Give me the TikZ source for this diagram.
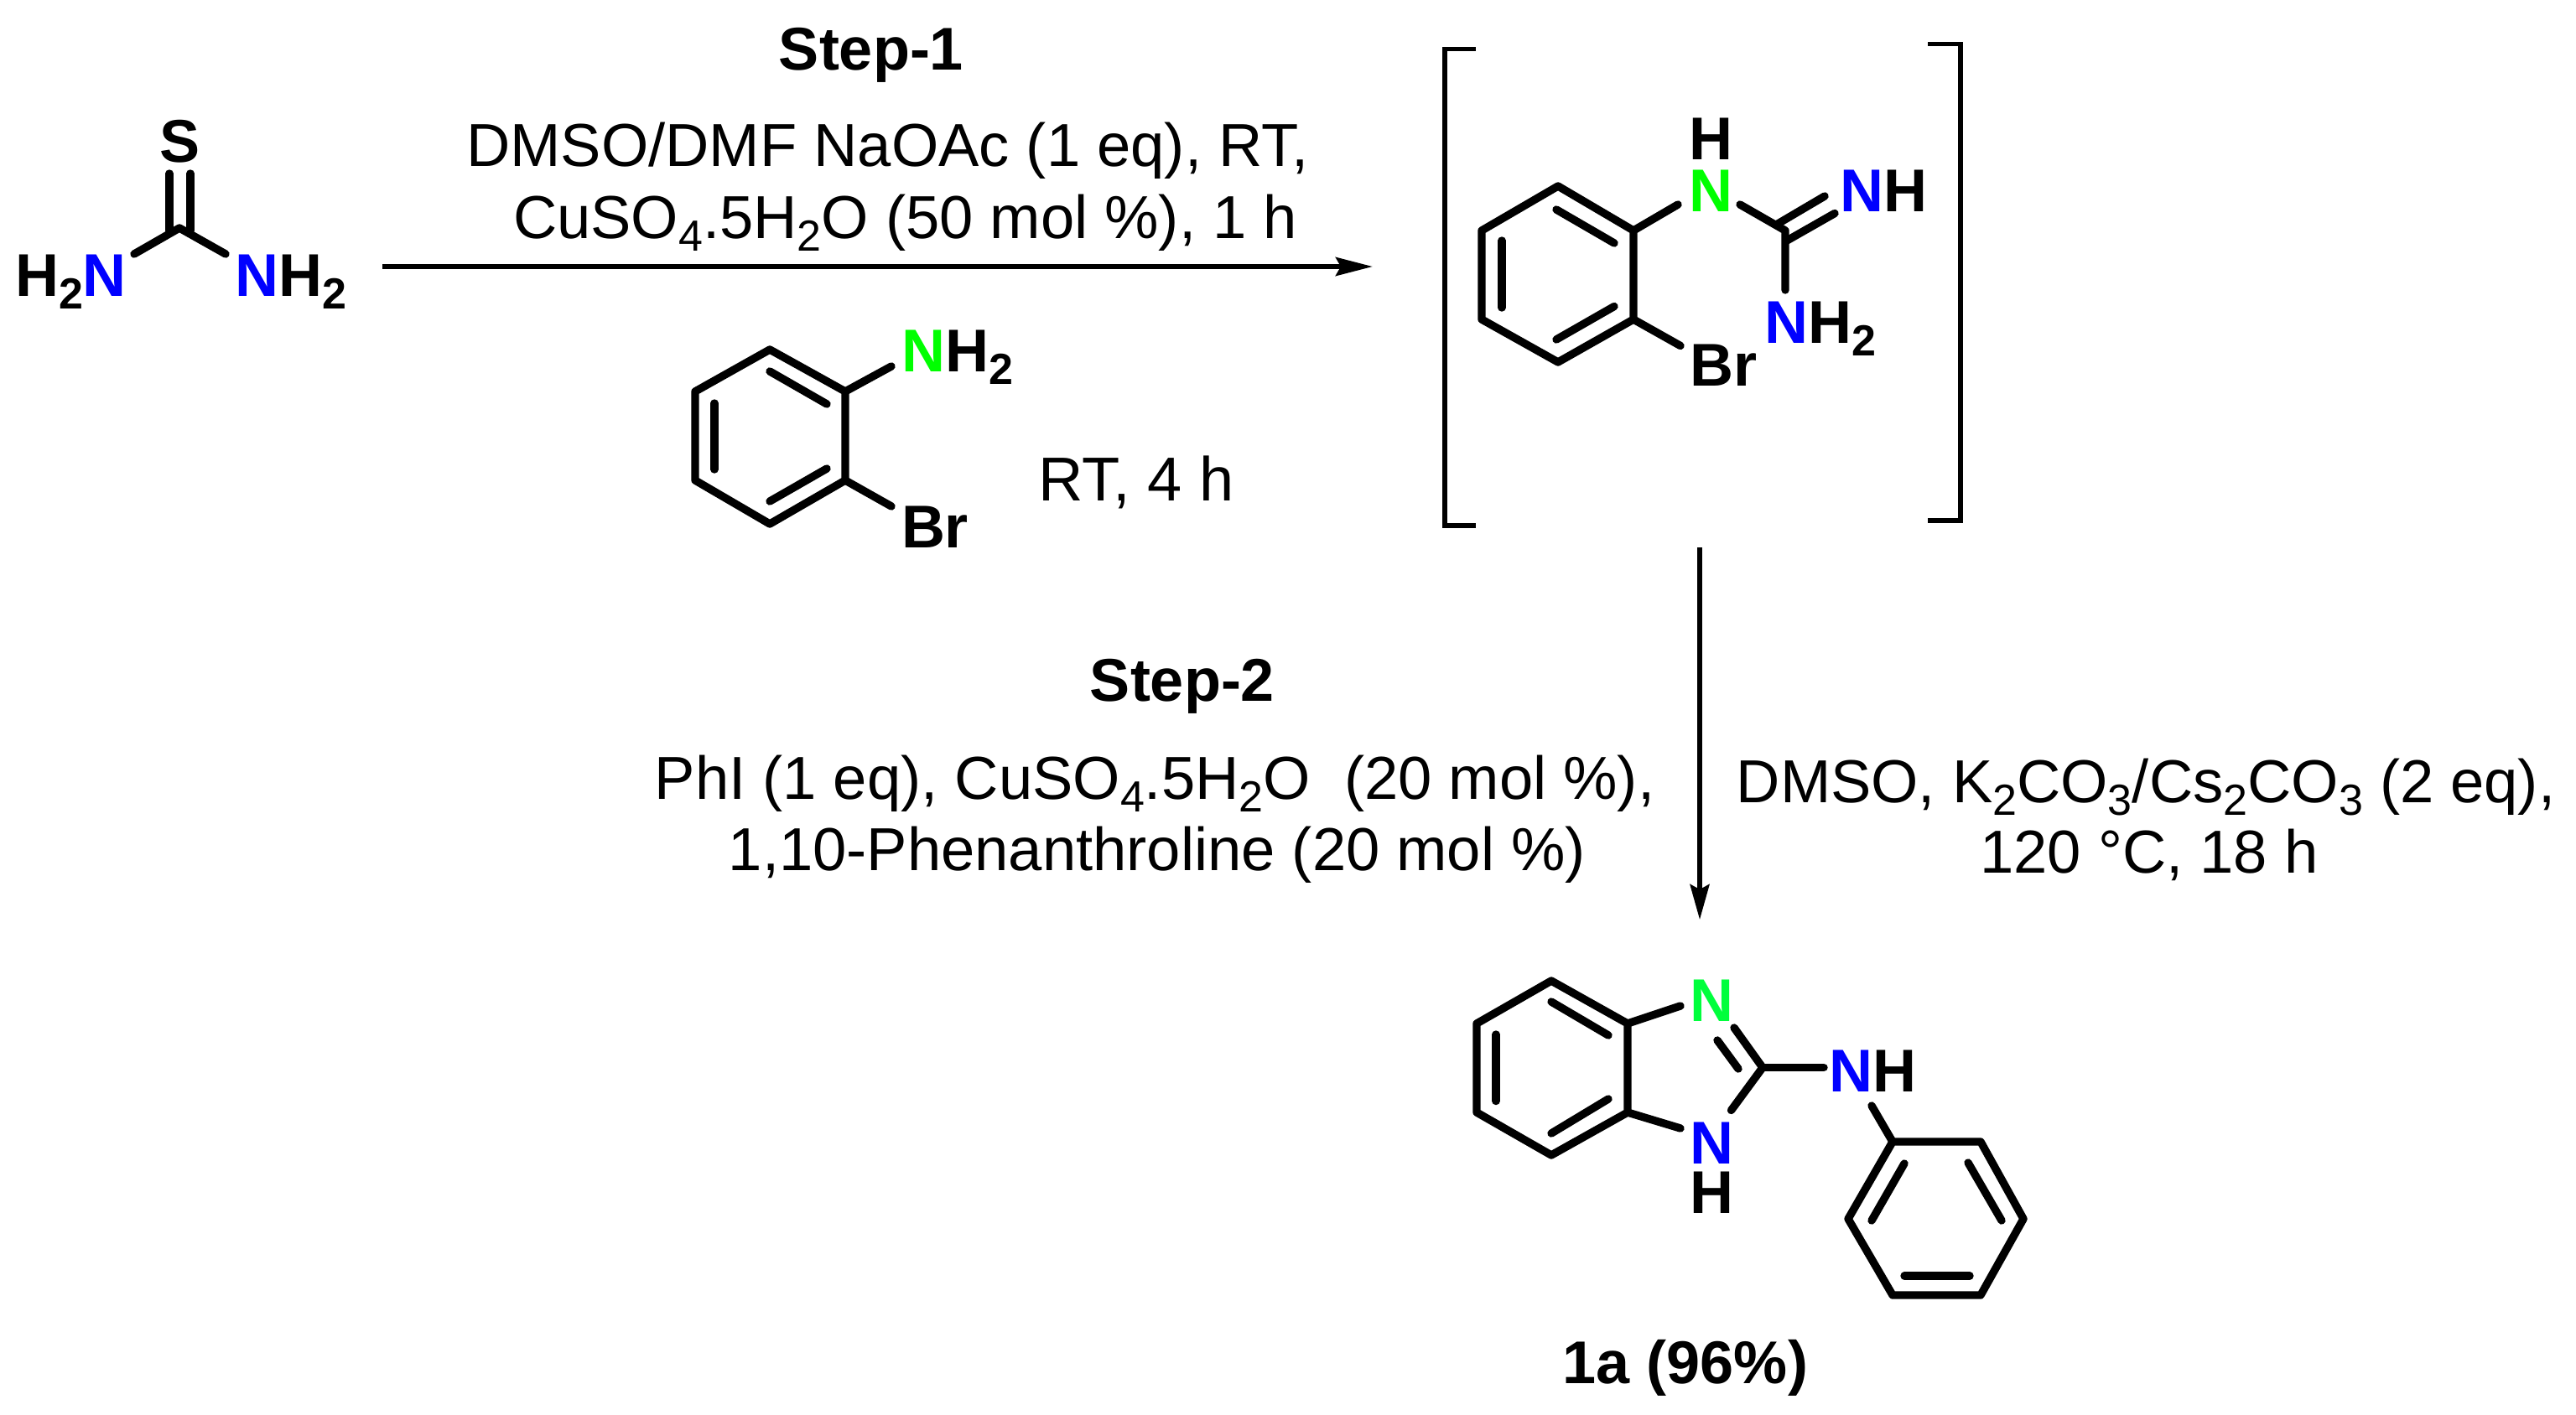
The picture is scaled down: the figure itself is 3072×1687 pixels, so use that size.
\documentclass[tikz,border=0pt]{standalone}
\usepackage{fontspec}
\setmainfont{Liberation Sans}
\usetikzlibrary{arrows.meta}
\definecolor{nblue}{HTML}{0000FF}
\definecolor{ngreen}{HTML}{00FF00}
\definecolor{ngreenb}{HTML}{00FF3C}
\newcommand{\lsub}[1]{\raisebox{-7.5pt}{\fontsize{26}{26}\selectfont #1}}
\newcommand{\Nb}{\textcolor{nblue}{N}}
\newcommand{\Ng}{\textcolor{ngreen}{N}}
\tikzset{
  bond/.style={line width=4.7pt,line cap=round,line join=round},
  bracketline/.style={line width=2.7pt,line cap=butt,line join=miter},
  txt/.style={font=\fontsize{36.2}{36.2}\selectfont,inner sep=0pt,outer sep=0pt,anchor=base},
  atom/.style={font=\fontsize{36}{36}\selectfont\bfseries,inner sep=0pt,outer sep=0pt,anchor=base},
  rxnA/.style={line width=2.9pt,-{Stealth[length=22pt,width=11pt,inset=3pt]}},
  rxnB/.style={line width=2.6pt,-{Stealth[length=21pt,width=11.5pt,inset=3pt]}}
}
\begin{document}
\begin{tikzpicture}[x=0.5pt,y=-0.5pt]
\useasboundingbox (0,0) rectangle (3072,1687);

% Thiourea
\node[atom] (S1) at (215,193) {S};
\node[atom] (N1) at (84.5,353) {H\lsub{2}\Nb};
\node[atom] (N2) at (347,353) {\Nb H\lsub{2}};
\draw[bond] (160,303) -- (214,272) -- (269,303);
\draw[bond] (202,207) -- (202,275);
\draw[bond] (227,207) -- (227,275);

% 2-bromoaniline
\node[atom] (N3) at (1142,443) {\Ng H\lsub{2}};
\node[atom] (Br1) at (1115,653) {Br};
\draw[bond] (918,417) -- (1008,467) -- (1008,573) -- (918,625) -- (829,573) -- (829,467) -- cycle;
\draw[bond] (918,443) -- (986,482);
\draw[bond] (986,559) -- (918,598);
\draw[bond] (852,481) -- (852,560);
\draw[bond] (1008,467) -- (1063,437);
\draw[bond] (1008,573) -- (1063,604);
\node[txt,font=\fontsize{37}{37}\selectfont] (rt) at (1355,597) {RT, 4 h};

% Intermediate
\node[atom] (H2) at (2040,190) {H};
\node[atom] (N4) at (2040,252.5) {\Ng};
\node[atom] (N5) at (2246,252.5) {\Nb H};
\node[atom] (N6) at (2171,409.6) {\Nb H\lsub{2}};
\node[atom] (Br2) at (2055,460.6) {Br};
\draw[bond] (1858,222) -- (1948,275) -- (1948,381) -- (1858,432) -- (1767,381) -- (1767,275) -- cycle;
\draw[bond] (1856,250) -- (1925,290);
\draw[bond] (1925,365.5) -- (1856,405);
\draw[bond] (1791,287) -- (1791,367);
\draw[bond] (1948,275) -- (2001,244);
\draw[bond] (2075,244) -- (2129,275) -- (2129,346);
\draw[bond] (2120,267) -- (2176,234);
\draw[bond] (2131,287) -- (2188,254.5);
\draw[bond] (1948,381) -- (2004,412.5);
\draw[bracketline] (1760,58.6) -- (1723,58.6) -- (1723,627) -- (1760,627);
\draw[bracketline] (2299,52.4) -- (2338,52.4) -- (2338,621) -- (2299,621);

% Product
\node[atom] (N7) at (2041,1218) {\textcolor{ngreenb}{N}};
\node[atom] (N8) at (2041,1388) {\Nb};
\node[atom] (H3) at (2041,1447) {H};
\node[atom] (N9) at (2233,1302) {\Nb H};
\node[atom] (yield) at (2010,1650) {1a (96\%)};
\draw[bond] (1850,1170) -- (1941,1221) -- (1941,1327) -- (1850,1378) -- (1761,1327) -- (1761,1221) -- cycle;
\draw[bond] (1850,1195) -- (1918,1235);
\draw[bond] (1918,1311) -- (1850,1352);
\draw[bond] (1784,1234) -- (1784,1313.5);
\draw[bond] (1941,1221) -- (2004,1200);
\draw[bond] (1941,1327) -- (2004,1346);
\draw[bond] (2068,1226) -- (2102,1273.5) -- (2064.5,1324.5);
\draw[bond] (2073,1275) -- (2048,1241);
\draw[bond] (2102,1273.5) -- (2175,1273.5);
\draw[bond] (2232,1319) -- (2257,1362);
\draw[bond] (2257,1362) -- (2362,1362) -- (2413,1454) -- (2362,1545) -- (2257,1545) -- (2204,1454) -- cycle;
\draw[bond] (2271,1388) -- (2232,1456);
\draw[bond] (2347,1387) -- (2387,1456);
\draw[bond] (2271,1522) -- (2349,1522);

% Conditions
\node[atom] (st1) at (1039,83) {Step-1};
\node[txt] (c1) at (1058.5,198) {DMSO/DMF NaOAc (1 eq), RT,};
\node[txt] (c2) at (1079.5,284) {CuSO\lsub{4}.5H\lsub{2}O (50 mol \%), 1 h};
\node[atom] (st2) at (1410,836) {Step-2};
\node[txt] (c3) at (1377,953) {PhI (1 eq), CuSO\lsub{4}.5H\lsub{2}O\ \ (20 mol \%),};
\node[txt] (c4) at (1380,1038) {1,10-Phenanthroline (20 mol \%)};
\node[txt] (c5) at (2559,957) {DMSO, K\lsub{2}CO\lsub{3}/Cs\lsub{2}CO\lsub{3} (2 eq),};
\node[txt] (c6) at (2563,1041) {120 °C, 18 h};

% Reaction arrows
\coordinate (a1s) at (456,318);
\coordinate (a1e) at (1637,318);
\coordinate (a2s) at (2027,653);
\coordinate (a2e) at (2027,1097);
\draw[rxnA] (a1s) -- (a1e);
\draw[rxnB] (a2s) -- (a2e);
\end{tikzpicture}
\end{document}
